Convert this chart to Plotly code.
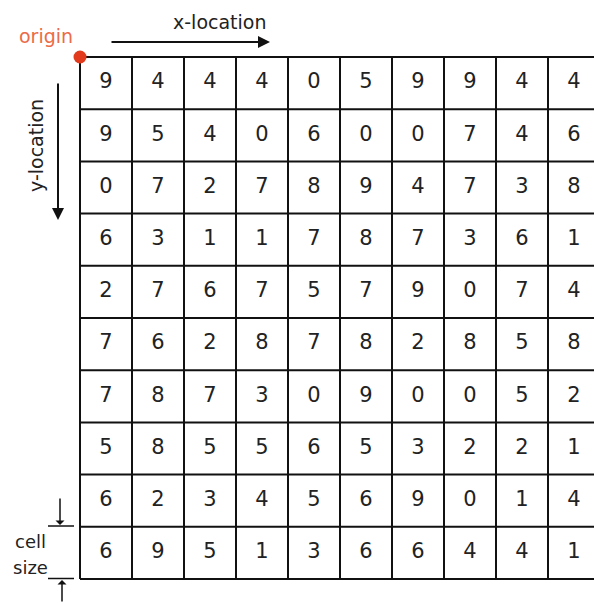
import plotly.graph_objects as go

# ---- data ----
grid_values = [
    [9, 4, 4, 4, 0, 5, 9, 9, 4, 4],
    [9, 5, 4, 0, 6, 0, 0, 7, 4, 6],
    [0, 7, 2, 7, 8, 9, 4, 7, 3, 8],
    [6, 3, 1, 1, 7, 8, 7, 3, 6, 1],
    [2, 7, 6, 7, 5, 7, 9, 0, 7, 4],
    [7, 6, 2, 8, 7, 8, 2, 8, 5, 8],
    [7, 8, 7, 3, 0, 9, 0, 0, 5, 2],
    [5, 8, 5, 5, 6, 5, 3, 2, 2, 1],
    [6, 2, 3, 4, 5, 6, 9, 0, 1, 4],
    [6, 9, 5, 1, 3, 6, 6, 4, 4, 1],
]
n_rows = len(grid_values)
n_cols = len(grid_values[0])

W, H = 594, 603
X0, Y0 = 80, 57          # origin in pixels
CW, CH = 52.0, 52.2      # cell size in pixels

xs, ys, txt = [], [], []
for r, row in enumerate(grid_values):
    for c, v in enumerate(row):
        xs.append(c + 0.5)
        ys.append(r + 0.5)
        txt.append(str(v))

fig = go.Figure()
fig.add_trace(go.Scatter(
    x=xs, y=ys, text=txt, mode="text",
    textfont=dict(family="DejaVu Sans", size=21, color="#222222"),
    hoverinfo="skip", showlegend=False,
))

shapes = []
for c in range(n_cols + 1):
    shapes.append(dict(type="line", xref="x", yref="y", x0=c, x1=c, y0=0, y1=n_rows,
                       line=dict(color="#111111", width=2)))
for r in range(n_rows + 1):
    shapes.append(dict(type="line", xref="x", yref="y", x0=0, x1=n_cols, y0=r, y1=r,
                       line=dict(color="#111111", width=2)))

def px(x):
    return x / W

def py(y):
    return 1 - y / H

# cell size tick lines
for yy in (526, 578.5):
    shapes.append(dict(type="line", xref="paper", yref="paper", x0=px(48), x1=px(74),
                       y0=py(yy), y1=py(yy), line=dict(color="#111111", width=1.5)))

# origin dot
shapes.append(dict(type="circle", xref="paper", yref="paper",
                   x0=px(X0 - 6.5), x1=px(X0 + 6.5), y0=py(Y0 + 6.5), y1=py(Y0 - 6.5),
                   fillcolor="#e23a1c", line=dict(width=0)))

annotations = [
    dict(text="origin", xref="paper", yref="paper", x=px(46), y=py(36), showarrow=False,
         font=dict(family="DejaVu Sans", size=19, color="#ec6a48"), xanchor="center", yanchor="middle"),
    dict(text="x-location", xref="paper", yref="paper", x=px(220), y=py(22), showarrow=False,
         font=dict(family="DejaVu Sans", size=19, color="#222222"), xanchor="center", yanchor="middle"),
    dict(text="y-location", xref="paper", yref="paper", x=px(36), y=py(146), showarrow=False,
         textangle=-90,
         font=dict(family="DejaVu Sans", size=19, color="#222222"), xanchor="center", yanchor="middle"),
    dict(text="cell", xref="paper", yref="paper", x=px(30), y=py(541), showarrow=False,
         font=dict(family="DejaVu Sans", size=18, color="#222222"), xanchor="center", yanchor="middle"),
    dict(text="size", xref="paper", yref="paper", x=px(30), y=py(567), showarrow=False,
         font=dict(family="DejaVu Sans", size=18, color="#222222"), xanchor="center", yanchor="middle"),
    # arrows
    dict(text="", xref="paper", yref="paper", x=px(270), y=py(42), ax=-160, ay=0,
         showarrow=True, arrowhead=2, arrowsize=1.2, arrowwidth=2, arrowcolor="#111111"),
    dict(text="", xref="paper", yref="paper", x=px(58), y=py(220), ax=0, ay=-138,
         showarrow=True, arrowhead=2, arrowsize=1.2, arrowwidth=2, arrowcolor="#111111"),
    dict(text="", xref="paper", yref="paper", x=px(60), y=py(525), ax=0, ay=-28,
         showarrow=True, arrowhead=1, arrowsize=1, arrowwidth=1.5, arrowcolor="#111111"),
    dict(text="", xref="paper", yref="paper", x=px(62), y=py(580), ax=0, ay=26,
         showarrow=True, arrowhead=1, arrowsize=1, arrowwidth=1.5, arrowcolor="#111111"),
]

fig.update_layout(
    width=W, height=H,
    margin=dict(l=0, r=0, t=0, b=0),
    paper_bgcolor="white", plot_bgcolor="white",
    xaxis=dict(range=[-X0 / CW, (W - X0) / CW], visible=False, fixedrange=True),
    yaxis=dict(range=[(H - Y0) / CH, -Y0 / CH], visible=False, fixedrange=True),
    shapes=shapes,
    annotations=annotations,
    showlegend=False,
)

fig.write_html("out.html", config={"displayModeBar": False},
               post_script="document.body.style.margin='0';document.body.style.overflow='hidden';")
